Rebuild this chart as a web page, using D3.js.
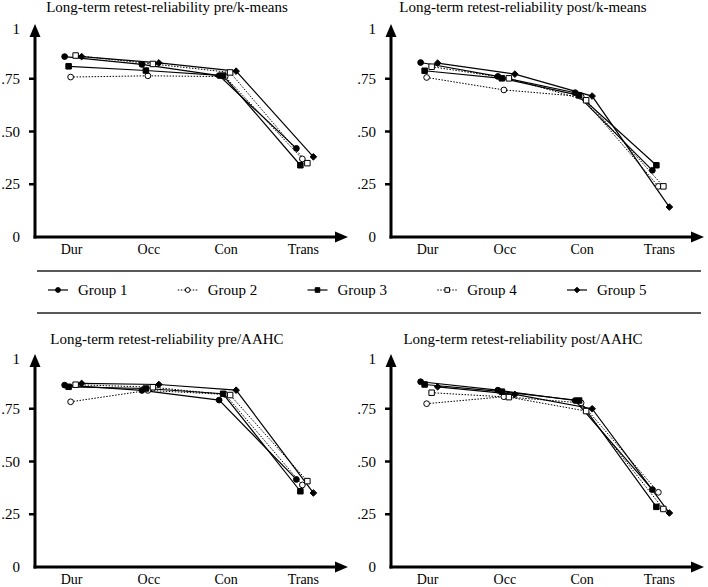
<!DOCTYPE html>
<html>
<head>
<meta charset="utf-8">
<script src="https://cdn.jsdelivr.net/npm/d3@7"></script>
<style>
  html, body { margin: 0; padding: 0; background: #fff; }
  svg { display: block; }
  text { font-family: "Liberation Serif", "Times New Roman", serif; fill: #000; }
</style>
</head>
<body>
<svg id="chart" width="708" height="587"></svg>
<script>
// ---------- data ----------
const categories = ["Dur", "Occ", "Con", "Trans"];
const groups = ["Group 1", "Group 2", "Group 3", "Group 4", "Group 5"];
const yTickValues = [0, 0.25, 0.5, 0.75, 1];
const yTickLabels = ["0", ".25", ".50", ".75", "1"];
const panelTitles = [
  "Long-term retest-reliability pre/k-means",
  "Long-term retest-reliability post/k-means",
  "Long-term retest-reliability pre/AAHC",
  "Long-term retest-reliability post/AAHC"
];
// values per group (rows) across categories (columns)
const preKmeans = [
  [0.855, 0.818, 0.765, 0.420],
  [0.758, 0.764, 0.760, 0.370],
  [0.809, 0.789, 0.765, 0.340],
  [0.860, 0.820, 0.780, 0.350],
  [0.855, 0.825, 0.786, 0.380]
];
const postKmeans = [
  [0.827, 0.761, 0.684, 0.316],
  [0.756, 0.697, 0.666, 0.240],
  [0.788, 0.752, 0.671, 0.340],
  [0.807, 0.752, 0.648, 0.240],
  [0.824, 0.772, 0.668, 0.142]
];
const preAAHC = [
  [0.862, 0.837, 0.791, 0.415],
  [0.783, 0.837, 0.818, 0.389],
  [0.854, 0.846, 0.821, 0.359],
  [0.864, 0.852, 0.815, 0.407],
  [0.870, 0.865, 0.838, 0.351]
];
const postAAHC = [
  [0.878, 0.838, 0.789, 0.367],
  [0.774, 0.807, 0.778, 0.354],
  [0.865, 0.831, 0.789, 0.285],
  [0.826, 0.805, 0.739, 0.275],
  [0.854, 0.818, 0.750, 0.256]
];
const panelData = [preKmeans, postKmeans, preAAHC, postAAHC];

// ---------- styles ----------
const groupStyle = [
  { dash: null,      symbol: d3.symbolCircle,   size: 26, fill: "#000" },
  { dash: "1.5,1.5", symbol: d3.symbolCircle,   size: 26, fill: "#fff" },
  { dash: null,      symbol: d3.symbolSquare,   size: 30, fill: "#000" },
  { dash: "1.5,1.5", symbol: d3.symbolSquare,   size: 30, fill: "#fff" },
  { dash: null,      symbol: d3.symbolDiamond2, size: 28, fill: "#000" }
];
const groupOffset = [-7, -1, -3, 4, 10];

const panels = [
  { ox: 35,  base: 237, titleY: 12 },
  { ox: 391, base: 237, titleY: 12 },
  { ox: 35,  base: 567, titleY: 344 },
  { ox: 391, base: 567, titleY: 344 }
];

const svg = d3.select("#chart");
svg.append("rect").attr("width", 708).attr("height", 587).attr("fill", "#fff");

panels.forEach((p, pi) => {
  const g = svg.append("g");
  const x = d3.scalePoint().domain(categories).range([p.ox - 2, p.ox + 307]).padding(0.5);
  const y = d3.scaleLinear().domain([0, 1]).range([p.base, p.base - 211]);

  // title
  g.append("text").attr("x", p.ox + 132).attr("y", p.titleY)
    .attr("text-anchor", "middle").attr("font-size", 15).text(panelTitles[pi]);

  // y axis line + arrow
  const yTop = y(1) - 2;
  g.append("line").attr("x1", p.ox).attr("x2", p.ox)
    .attr("y1", p.base + 1.5).attr("y2", yTop + 10)
    .attr("stroke", "#000").attr("stroke-width", 3);
  g.append("path")
    .attr("d", `M${p.ox},${yTop} L${p.ox - 5.5},${yTop + 13} L${p.ox + 5.5},${yTop + 13} Z`)
    .attr("fill", "#000");

  // x axis line + arrow
  const xEnd = p.ox + 313;
  g.append("line").attr("x1", p.ox - 1.5).attr("x2", xEnd - 10)
    .attr("y1", p.base).attr("y2", p.base)
    .attr("stroke", "#000").attr("stroke-width", 3);
  g.append("path")
    .attr("d", `M${xEnd},${p.base} L${xEnd - 13},${p.base - 5.5} L${xEnd - 13},${p.base + 5.5} Z`)
    .attr("fill", "#000");

  // y ticks
  yTickValues.forEach((v, i) => {
    if (v > 0 && v < 1) {
      g.append("line").attr("x1", p.ox - 6).attr("x2", p.ox)
        .attr("y1", y(v)).attr("y2", y(v))
        .attr("stroke", "#000").attr("stroke-width", 2.5);
    }
    g.append("text").attr("x", p.ox - 15).attr("y", y(v) + (v === 1 ? 3 : 0))
      .attr("text-anchor", "end").attr("dominant-baseline", "central")
      .attr("font-size", 15).text(yTickLabels[i]);
  });

  // category labels
  categories.forEach(c => {
    g.append("text").attr("x", x(c)).attr("y", p.base + 17)
      .attr("text-anchor", "middle").attr("font-size", 14).text(c);
  });

  const data = panelData[pi];
  const line = d3.line()
    .x((d, i) => x(categories[i]) + d.off)
    .y(d => y(d.v));

  // lines
  data.forEach((vals, gi) => {
    const pts = vals.map(v => ({ v, off: groupOffset[gi] }));
    g.append("path").attr("d", line(pts))
      .attr("fill", "none").attr("stroke", "#000")
      .attr("stroke-width", groupStyle[gi].dash ? 1 : 1.2)
      .attr("stroke-dasharray", groupStyle[gi].dash);
  });
  // markers
  data.forEach((vals, gi) => {
    const st = groupStyle[gi];
    const sym = d3.symbol().type(st.symbol).size(st.size);
    vals.forEach((v, i) => {
      g.append("path").attr("d", sym())
        .attr("transform", `translate(${x(categories[i]) + groupOffset[gi]},${y(v)})`)
        .attr("fill", st.fill).attr("stroke", "#000").attr("stroke-width", 1);
    });
  });
});

// ---------- legend ----------
const legend = svg.append("g");
[271, 313].forEach(yy => {
  legend.append("line").attr("x1", 37).attr("x2", 701).attr("y1", yy).attr("y2", yy)
    .attr("stroke", "#222").attr("stroke-width", 1.5);
});
const legendX = d3.scalePoint().domain(groups).range([58, 577]);
groups.forEach((name, gi) => {
  const st = groupStyle[gi];
  const cx = legendX(name);
  const ly = 290;
  legend.append("line").attr("x1", cx - 10).attr("x2", cx + 10).attr("y1", ly).attr("y2", ly)
    .attr("stroke", "#000").attr("stroke-width", st.dash ? 1 : 1.2)
    .attr("stroke-dasharray", st.dash);
  legend.append("path").attr("d", d3.symbol().type(st.symbol).size(st.size * 0.7)())
    .attr("transform", `translate(${cx},${ly})`)
    .attr("fill", st.fill).attr("stroke", "#000").attr("stroke-width", 1);
  legend.append("text").attr("x", cx + 20).attr("y", ly)
    .attr("dominant-baseline", "central").attr("font-size", 15).text(name);
});
</script>
</body>
</html>
